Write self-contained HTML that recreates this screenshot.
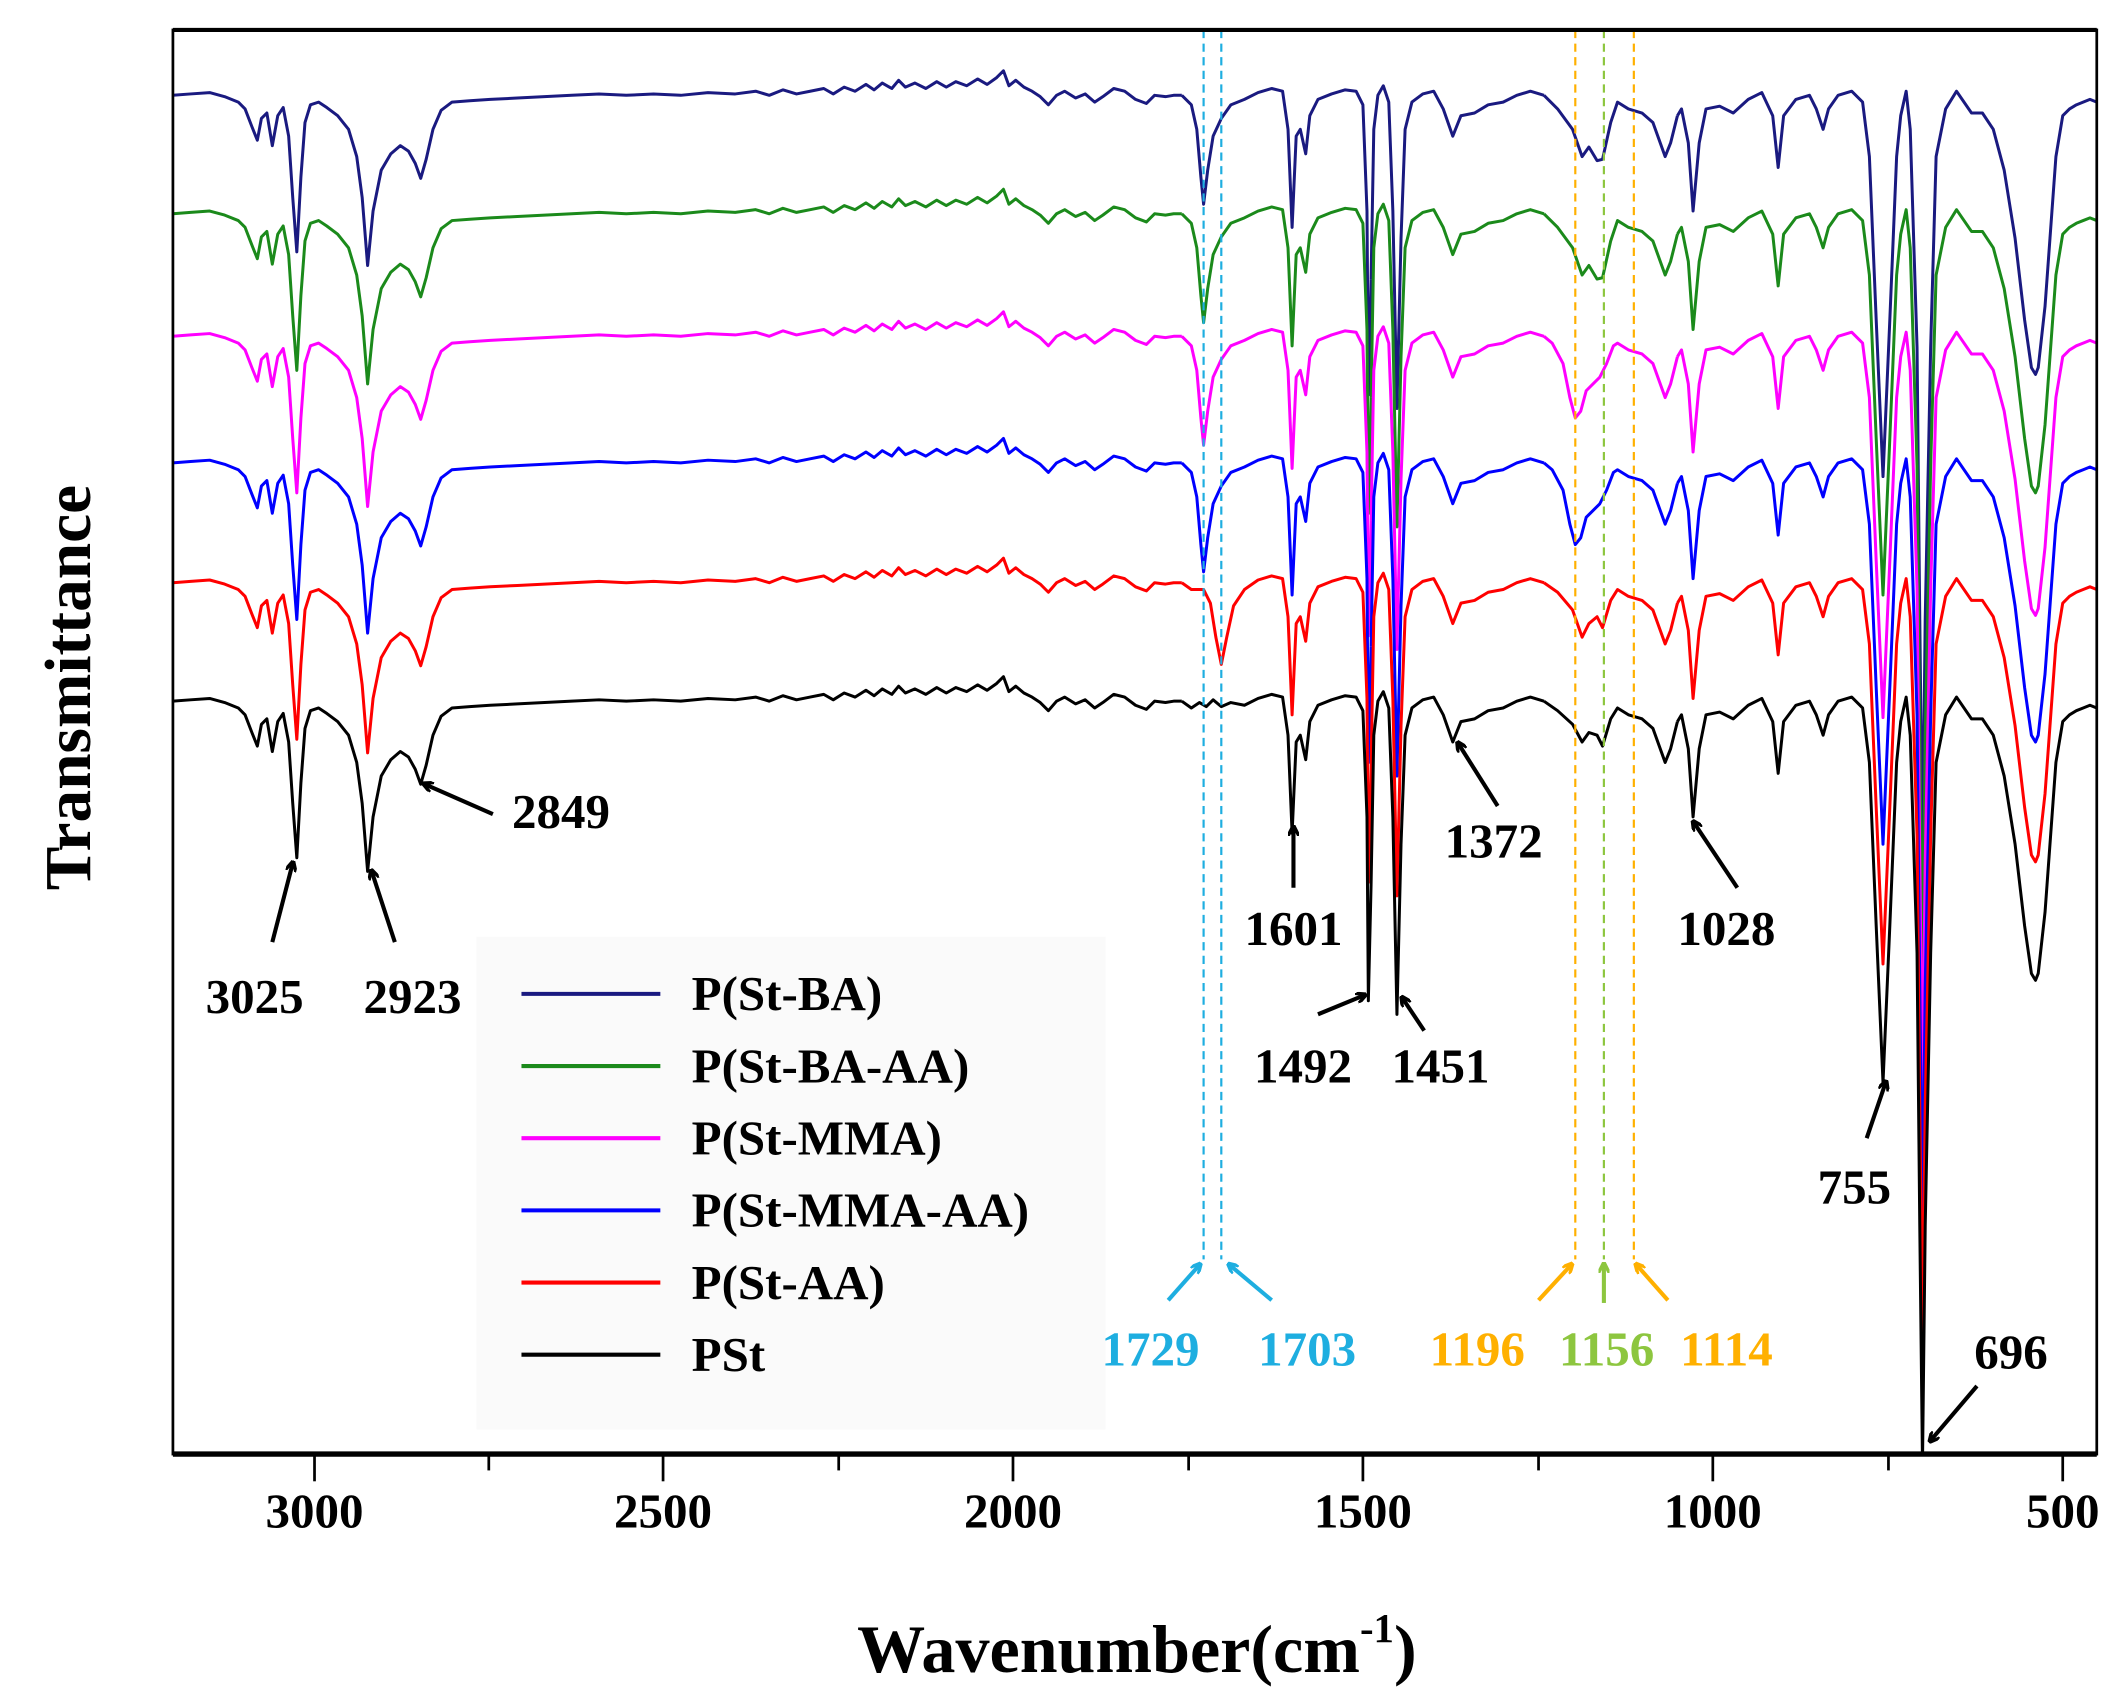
<!DOCTYPE html>
<html><head><meta charset="utf-8">
<style>
html,body{margin:0;padding:0;background:#fff;}
svg{display:block;}
text{font-family:"Liberation Serif",serif;font-weight:bold;}
</style></head>
<body>
<svg width="2124" height="1708" viewBox="0 0 1560 1254.5" preserveAspectRatio="none" xmlns="http://www.w3.org/2000/svg" xmlns:xlink="http://www.w3.org/1999/xlink">
<defs>
<clipPath id="cp"><rect x="127" y="22" width="1413" height="1046"/></clipPath>
<marker id="ak" markerWidth="8" markerHeight="8" refX="6" refY="4" orient="auto" markerUnits="userSpaceOnUse"><path d="M0,0 L8,4 L0,8" fill="none" stroke="#000" stroke-width="2.5"/></marker>
<marker id="ac" markerWidth="8" markerHeight="8" refX="6" refY="4" orient="auto" markerUnits="userSpaceOnUse"><path d="M0,0 L8,4 L0,8" fill="none" stroke="#1EAEE0" stroke-width="2.5"/></marker>
<marker id="ao" markerWidth="8" markerHeight="8" refX="6" refY="4" orient="auto" markerUnits="userSpaceOnUse"><path d="M0,0 L8,4 L0,8" fill="none" stroke="#FFB000" stroke-width="2.5"/></marker>
<marker id="ag" markerWidth="8" markerHeight="8" refX="6" refY="4" orient="auto" markerUnits="userSpaceOnUse"><path d="M0,0 L8,4 L0,8" fill="none" stroke="#8DC63F" stroke-width="2.5"/></marker>
<path id="A" d="M127,515 L140,514 L154,513 L165,516 L175,520 L180,525 L185,538 L189,548 L192,532 L196,528 L200,552 L204,530 L208,524 L212,545 L215,590 L218,630 L221,575 L224,535 L228,522 L234,520 L240,524 L248,530 L256,540 L262,560 L266,590 L270,640 L274,600 L280,570 L287,558 L294,552 L300,556 L305,565 L309,576 L313,562 L318,540 L324,526 L332,520 L345,519 L360,518 L380,517 L400,516 L420,515 L440,514 L460,515 L480,514 L500,515 L520,513 L540,514 L555,512 L565,515 L575,511 L585,514 L595,512 L605,510 L612,514 L620,509 L628,512 L636,507 L642,511 L648,506 L655,510 L660,504 L665,509 L672,506 L680,510 L688,505 L695,509 L702,505 L710,508 L718,503 L725,507 L732,502 L737,497 L741,508 L746,504 L752,509 L758,512 L764,516 L770,522 L776,515 L782,512 L790,517 L797,514 L804,520 L810,516 L818,510 L826,512 L834,518 L842,521 L848,515 L856,516 L862,515 L868,515"/>
<path id="Bk" d="M868,515 L875,520 L881,516 L886,519 L891,514 L897,519 L904,516 L914,518 L924,513 L934,510 L942,512 L946,540 L949,612 L952,545 L955,540 L959,558 L962,530 L968,518 L978,514 L988,511 L996,512 L1001,522 L1004,600 L1005,735 L1007,650"/>
<path id="Bc" d="M868,515 L875,522 L879,540 L882,575 L884,595 L887,570 L891,545 L897,532 L904,522 L914,518 L924,513 L934,510 L942,512 L946,540 L949,612 L952,545 L955,540 L959,558 L962,530 L968,518 L978,514 L988,511 L996,512 L1001,522 L1004,600 L1005,735 L1007,650"/>
<path id="Br" d="M868,515 L875,520 L884,520 L889,530 L893,555 L897,575 L901,555 L906,532 L914,520 L924,513 L934,510 L942,512 L946,540 L949,612 L952,545 L955,540 L959,558 L962,530 L968,518 L978,514 L988,511 L996,512 L1001,522 L1004,600 L1005,735 L1007,650"/>
<path id="C" d="M1007,650 L1009,540 L1012,515 L1016,508 L1020,520 L1023,600 L1026,745 L1029,620 L1032,540 L1037,520 L1045,514 L1053,512 L1060,525 L1067,545 L1073,530 L1083,528 L1093,522 L1104,520 L1114,515 L1124,512 L1134,515"/>
<path id="Dk" d="M1134,515 L1144,522 L1155,532 L1162,545 L1167,538 L1173,540 L1177,548 L1183,528 L1188,520 L1196,525 L1206,528 L1214,535 L1223,560 L1227,550 L1232,530"/>
<path id="Dba" d="M1134,515 L1144,525 L1155,540 L1162,560 L1167,553 L1173,563 L1177,562 L1183,535 L1188,520 L1196,525 L1206,528 L1214,535 L1223,560 L1227,550 L1232,530"/>
<path id="Dm" d="M1134,515 L1140,520 L1148,535 L1153,560 L1157,575 L1161,570 L1165,555 L1170,550 L1175,545 L1180,535 L1185,522 L1188,520 L1196,525 L1206,528 L1214,535 L1223,560 L1227,550 L1232,530"/>
<path id="Dr" d="M1134,515 L1144,522 L1155,535 L1162,555 L1167,545 L1173,540 L1177,548 L1183,528 L1188,520 L1196,525 L1206,528 L1214,535 L1223,560 L1227,550 L1232,530"/>
<path id="E" d="M1232,530 L1235,525 L1240,550 L1243.5,600 L1248,550 L1253,525 L1263,523 L1273,528 L1284,518 L1294,513 L1302,530 L1306,568 L1310,530 L1319,518 L1329,515 L1334,525 L1339,540 L1343,525 L1350,515 L1360,512 L1368,520 L1373,560 L1378,680 L1383,795 L1388,680 L1393,560 L1396,530 L1400,512 L1403,540 L1408,700 L1410,900 L1412,1075 L1414,900 L1418,700 L1422,560 L1429,525 L1437,512 L1448,528 L1456,528 L1464,540 L1472,570 L1480,620 L1487,680 L1492,715 L1495,720 L1497,715 L1502,670 L1510,560 L1515,530 L1520,525 L1525,522 L1530,520 L1535,518 L1540,520"/>
</defs>
<rect x="0" y="0" width="1560" height="1254.5" fill="#fff"/>
<rect x="350" y="688" width="462" height="362" fill="#fafafa"/>
<g clip-path="url(#cp)" fill="none" stroke-width="2.2" stroke-linejoin="round">
<g stroke="#1a1a80" transform="translate(0,-445)"><use xlink:href="#A"/><use xlink:href="#Bc"/><use xlink:href="#C"/><use xlink:href="#Dba"/><use xlink:href="#E"/></g>
<g stroke="#1b8a1b" transform="translate(0,-358)"><use xlink:href="#A"/><use xlink:href="#Bc"/><use xlink:href="#C"/><use xlink:href="#Dba"/><use xlink:href="#E"/></g>
<g stroke="#ff00ff" transform="translate(0,-268)"><use xlink:href="#A"/><use xlink:href="#Bc"/><use xlink:href="#C"/><use xlink:href="#Dm"/><use xlink:href="#E"/></g>
<g stroke="#0000ff" transform="translate(0,-175)"><use xlink:href="#A"/><use xlink:href="#Bc"/><use xlink:href="#C"/><use xlink:href="#Dm"/><use xlink:href="#E"/></g>
<g stroke="#ff0000" transform="translate(0,-87)"><use xlink:href="#A"/><use xlink:href="#Br"/><use xlink:href="#C"/><use xlink:href="#Dr"/><use xlink:href="#E"/></g>
<g stroke="#000000"><use xlink:href="#A"/><use xlink:href="#Bk"/><use xlink:href="#C"/><use xlink:href="#Dk"/><use xlink:href="#E"/></g>
</g>
<g stroke-width="1.6" stroke-dasharray="6,4" fill="none">
<line x1="884" y1="22" x2="884" y2="925" stroke="#1EAEE0"/>
<line x1="897" y1="22" x2="897" y2="925" stroke="#1EAEE0"/>
<line x1="1157" y1="22" x2="1157" y2="925" stroke="#FFB000"/>
<line x1="1178" y1="22" x2="1178" y2="925" stroke="#8DC63F"/>
<line x1="1200" y1="22" x2="1200" y2="925" stroke="#FFB000"/>
</g>
<rect x="127" y="22" width="1413" height="1046" fill="none" stroke="#000" stroke-width="2"/>
<line x1="127" y1="1068" x2="1540" y2="1068" stroke="#000" stroke-width="4"/>
<line x1="127" y1="22" x2="1540" y2="22" stroke="#000" stroke-width="3"/>
<g stroke="#000" stroke-width="2">
<line x1="231" y1="1068" x2="231" y2="1088"/><line x1="359" y1="1068" x2="359" y2="1080"/>
<line x1="487" y1="1068" x2="487" y2="1088"/><line x1="616" y1="1068" x2="616" y2="1080"/>
<line x1="744" y1="1068" x2="744" y2="1088"/><line x1="873" y1="1068" x2="873" y2="1080"/>
<line x1="1001" y1="1068" x2="1001" y2="1088"/><line x1="1130" y1="1068" x2="1130" y2="1080"/>
<line x1="1258" y1="1068" x2="1258" y2="1088"/><line x1="1387" y1="1068" x2="1387" y2="1080"/>
<line x1="1515" y1="1068" x2="1515" y2="1088"/>
</g>
<g font-size="36" text-anchor="middle" fill="#000">
<text x="231" y="1122">3000</text><text x="487" y="1122">2500</text><text x="744" y="1122">2000</text>
<text x="1001" y="1122">1500</text><text x="1258" y="1122">1000</text><text x="1515" y="1122">500</text>
</g>
<text x="835" y="1228" font-size="50" text-anchor="middle">Wavenumber(cm<tspan font-size="30" dy="-22">-1</tspan><tspan dy="22">)</tspan></text>
<text transform="translate(66,505) rotate(-90)" font-size="48" text-anchor="middle">Transmittance</text>
<g stroke-width="3">
<line x1="383" y1="730" x2="485" y2="730" stroke="#1a1a80"/>
<line x1="383" y1="783" x2="485" y2="783" stroke="#1b8a1b"/>
<line x1="383" y1="836" x2="485" y2="836" stroke="#ff00ff"/>
<line x1="383" y1="889" x2="485" y2="889" stroke="#0000ff"/>
<line x1="383" y1="942" x2="485" y2="942" stroke="#ff0000"/>
<line x1="383" y1="995" x2="485" y2="995" stroke="#000"/>
</g>
<g font-size="36" fill="#000">
<text x="508" y="742">P(St-BA)</text><text x="508" y="795">P(St-BA-AA)</text>
<text x="508" y="848">P(St-MMA)</text><text x="508" y="901">P(St-MMA-AA)</text>
<text x="508" y="954">P(St-AA)</text><text x="508" y="1007">PSt</text>
</g>
<g font-size="36" fill="#000" text-anchor="middle">
<text x="187" y="744">3025</text><text x="303" y="744">2923</text><text x="412" y="608">2849</text>
<text x="950" y="694">1601</text><text x="957" y="795">1492</text><text x="1058" y="795">1451</text>
<text x="1097" y="630">1372</text><text x="1268" y="694">1028</text><text x="1362" y="884">755</text>
<text x="1477" y="1005">696</text>
</g>
<g stroke="#000" stroke-width="3" fill="none" marker-end="url(#ak)">
<line x1="200" y1="692" x2="215" y2="634"/>
<line x1="290" y1="692" x2="273" y2="640"/>
<line x1="362" y1="598" x2="312" y2="576"/>
<line x1="950" y1="652" x2="950" y2="608"/>
<line x1="968" y1="745" x2="1002" y2="731"/>
<line x1="1046" y1="757" x2="1030" y2="733"/>
<line x1="1100" y1="592" x2="1071" y2="546"/>
<line x1="1276" y1="652" x2="1244" y2="604"/>
<line x1="1371" y1="836" x2="1385" y2="795"/>
<line x1="1452" y1="1018" x2="1418" y2="1058"/>
</g>
<g font-size="36" text-anchor="middle">
<text x="845" y="1003" fill="#1EAEE0">1729</text><text x="960" y="1003" fill="#1EAEE0">1703</text>
<text x="1085" y="1003" fill="#FFB000">1196</text><text x="1180" y="1003" fill="#8DC63F">1156</text>
<text x="1268" y="1003" fill="#FFB000">1114</text>
</g>
<g stroke-width="3" fill="none">
<line x1="858" y1="955" x2="881" y2="929" stroke="#1EAEE0" marker-end="url(#ac)"/>
<line x1="934" y1="955" x2="903" y2="929" stroke="#1EAEE0" marker-end="url(#ac)"/>
<line x1="1130" y1="955" x2="1154" y2="929" stroke="#FFB000" marker-end="url(#ao)"/>
<line x1="1178" y1="957" x2="1178" y2="929" stroke="#8DC63F" marker-end="url(#ag)"/>
<line x1="1225" y1="955" x2="1202" y2="929" stroke="#FFB000" marker-end="url(#ao)"/>
</g>
</svg>
</body></html>
